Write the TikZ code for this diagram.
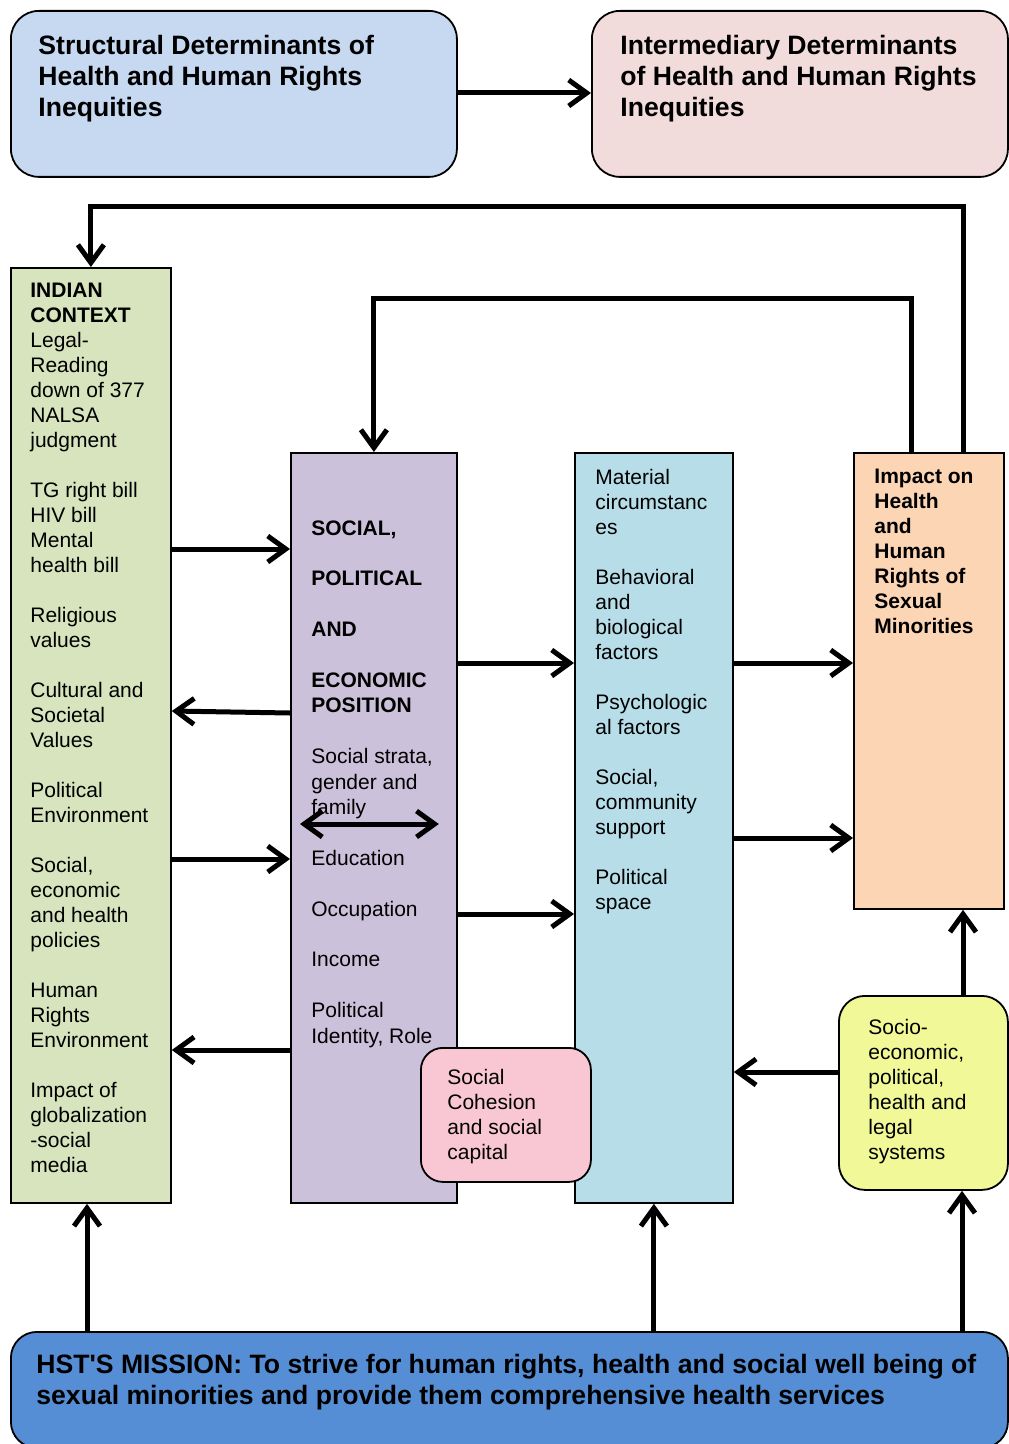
\documentclass[tikz,border=0pt]{standalone}
\usepackage{fontspec}
\setmainfont{Liberation Sans}
\usetikzlibrary{arrows.meta}

\definecolor{structblue}{HTML}{C6D9F1}
\definecolor{interpink}{HTML}{F2DCDB}
\definecolor{ctxgreen}{HTML}{D7E4BD}
\definecolor{poslilac}{HTML}{CCC1DA}
\definecolor{matblue}{HTML}{B7DDE8}
\definecolor{impactorange}{HTML}{FCD5B5}
\definecolor{cohpink}{HTML}{F9C7D3}
\definecolor{sysyellow}{HTML}{F0F898}
\definecolor{missionblue}{HTML}{558ED5}

\newcommand{\gapline}{\\[12.5pt]}
\newcommand{\widegap}{\\[12.7pt]}

\begin{document}
\begin{tikzpicture}[x=0.5pt,y=-0.5pt,
    box/.style={draw, line width=0.9pt, inner sep=0, anchor=north west},
    rbox/.style={box, rounded corners=14pt},
    txt/.style={inner sep=0, anchor=north west, align=left, font=\fontsize{10.5}{12.5}\selectfont},
    btxt/.style={txt, font=\fontsize{10.5}{12.5}\selectfont\bfseries},
    head/.style={txt, font=\fontsize{13.3}{15.5}\selectfont\bfseries},
    arr/.style={line width=2.5pt, -{Straight Barb[length=9pt,width=13pt]}},
    >={Straight Barb[length=9pt,width=13pt]}
]
    \useasboundingbox (0,0) rectangle (1008,1444);

    % Top row
    \node[rbox, fill=structblue, minimum width=223pt, minimum height=83pt] (struct) at (10,10) {};
    \node[rbox, fill=interpink, minimum width=208pt, minimum height=83pt] (inter) at (591,10) {};
    \node[head] (structtxt) at (38,35) {Structural Determinants of\\Health and Human Rights\\Inequities};
    \node[head] (intertxt) at (620,35) {Intermediary Determinants\\of Health and Human Rights\\Inequities};
    \draw[arr] (struct.east |- 0,93) -- (inter.west |- 0,93);

    % Columns
    \node[box, fill=ctxgreen, minimum width=80pt, minimum height=467.5pt] (ctx) at (10,267) {};
    \node[box, fill=poslilac, minimum width=83pt, minimum height=375pt] (pos) at (290,452) {};
    \node[box, fill=matblue, minimum width=79pt, minimum height=375pt] (mat) at (574,452) {};
    \node[box, fill=impactorange, minimum width=75pt, minimum height=228pt] (impact) at (853,452) {};
    \node[rbox, fill=cohpink, rounded corners=11pt, minimum width=85pt, minimum height=67pt] (coh) at (420,1047) {};
    \node[rbox, fill=sysyellow, rounded corners=13pt, minimum width=84.5pt, minimum height=97pt] (sys) at (838,995) {};
    \node[rbox, fill=missionblue, rounded corners=13pt, minimum width=498.5pt, minimum height=58pt] (mission) at (10,1331) {};

    \node[txt] (ctxtxt) at (30,283) {\textbf{INDIAN}\\\textbf{CONTEXT}\\Legal-\\Reading\\down of 377\\NALSA\\judgment\gapline
        TG right bill\\HIV bill\\Mental\\health bill\gapline Religious\\values\gapline
        Cultural and\\Societal\\Values\gapline Political\\Environment\gapline
        Social,\\economic\\and health\\policies\gapline Human\\Rights\\Environment\gapline
        Impact of\\globalization\\-social\\media};
    \node[txt, font=\fontsize{10.5}{12.7}\selectfont] (postxt) at (311,520) {\textbf{SOCIAL,}\widegap\textbf{POLITICAL}\widegap\textbf{AND}\widegap
        \textbf{ECONOMIC}\\\textbf{POSITION}\widegap Social strata,\\gender and\\family\widegap
        Education\widegap Occupation\widegap Income\widegap Political\\Identity, Role};
    \node[txt] (mattxt) at (595,469) {Material\\circumstanc\\es\gapline Behavioral\\and\\biological\\factors\gapline
        Psychologic\\al factors\gapline Social,\\community\\support\gapline Political\\space};
    \node[btxt] (impacttxt) at (874,469) {Impact on\\Health\\and\\Human\\Rights of\\Sexual\\Minorities};
    \node[txt] (cohtxt) at (447,1069) {Social\\Cohesion\\and social\\capital};
    \node[txt] (systxt) at (868,1019) {Socio-\\economic,\\political,\\health and\\legal\\systems};
    \node[head] (missiontxt) at (36,1354) {HST\textquotesingle S MISSION: To strive for human rights, health and social well being of\\sexual minorities and provide them comprehensive health services};

    % Feedback loops
    \draw[arr] ([xshift=17.5pt]impact.north) -- ([xshift=17.5pt]impact.north |- 0,207) -| (ctx.north);
    \draw[arr] ([xshift=-8.5pt]impact.north) -- ([xshift=-8.5pt]impact.north |- 0,299) -| (pos.north);

    % Between columns
    \draw[arr] (ctx.east |- 0,549) -- (pos.west |- 0,549);
    \draw[arr] (pos.west |- 0,713) -- (ctx.east |- 0,711);
    \draw[arr] (ctx.east |- 0,859) -- (pos.west |- 0,859);
    \draw[arr] (pos.west |- 0,1050) -- (ctx.east |- 0,1050);
    \draw[arr] (pos.east |- 0,663) -- (mat.west |- 0,663);
    \draw[arr] (pos.east |- 0,914) -- (mat.west |- 0,914);
    \draw[arr] (mat.east |- 0,663) -- (impact.west |- 0,663);
    \draw[arr] (mat.east |- 0,838) -- (impact.west |- 0,838);
    \draw[arr] (sys.west |- 0,1072) -- (mat.east |- 0,1072);
    \draw[arr] (sys.north -| 963,0) -- (impact.south -| 963,0);
    \draw[arr, <->] ([xshift=5pt]pos.west |- 0,824) -- ([xshift=-9.5pt]pos.east |- 0,824);

    % Mission
    \draw[arr] (mission.north -| 87,0) -- (ctx.south -| 87,0);
    \draw[arr] (mission.north -| mat.south) -- (mat.south);
    \draw[arr] (mission.north -| 962,0) -- (sys.south -| 962,0);

\end{tikzpicture}
\end{document}
